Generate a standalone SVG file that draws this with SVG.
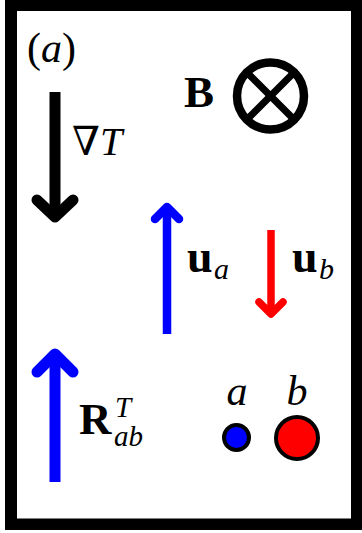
<svg xmlns="http://www.w3.org/2000/svg" width="362" height="533" viewBox="0 0 362 533">
<style>
.t{font-family:"Liberation Serif","DejaVu Serif",serif;fill:#000}
.i{font-style:italic}
.b{font-weight:bold}
.shaft{fill:none;stroke-linecap:butt}
.head{fill:none;stroke-linecap:round;stroke-linejoin:round}
</style>
<rect width="362" height="533" fill="#fff"/>
<g id="frame">
<path d="M5 0H362V530H5Z M17 11V518.5H351V11Z" fill="#000" fill-rule="evenodd"/>
</g>
<g id="connectors">
<g id="gradT" stroke="#000">
<line class="shaft" x1="55" y1="92" x2="55" y2="214" stroke-width="11"/>
<polyline class="head" points="37,200 55,217 73,200" stroke-width="11"/>
</g>
<g id="ua" stroke="#0000ff">
<line class="shaft" x1="167" y1="211" x2="167" y2="334" stroke-width="8.5"/>
<polyline class="head" points="155,219 167,207 179,219" stroke-width="8.5"/>
</g>
<g id="ub" stroke="#ff0000">
<line class="shaft" x1="271" y1="230" x2="271" y2="310" stroke-width="7.5"/>
<polyline class="head" points="259,302 271,314 283,302" stroke-width="7.5"/>
</g>
<g id="R" stroke="#0000ff">
<line class="shaft" x1="55" y1="358" x2="55" y2="482" stroke-width="11"/>
<polyline class="head" points="37,372 55,354 73,372" stroke-width="11"/>
</g>
</g>
<g id="label-a-panel"><text class="t" x="27" y="62" font-size="42">(<tspan class="i">a</tspan>)</text></g>
<g id="B-field">
<text class="t b" x="184" y="107" font-size="45">B</text>
<circle cx="270.5" cy="96" r="33.5" fill="none" stroke="#000" stroke-width="8.5"/>
<line x1="247" y1="72.5" x2="294" y2="119.5" stroke="#000" stroke-width="7"/>
<line x1="294" y1="72.5" x2="247" y2="119.5" stroke="#000" stroke-width="7"/>
</g>
<g id="label-gradT"><text class="t" x="72" y="155" font-size="40">∇<tspan class="i">T</tspan></text></g>
<g id="label-ua"><text class="t b" x="187" y="272" font-size="46">u</text><text class="t i" x="214" y="279" font-size="30">a</text></g>
<g id="label-ub"><text class="t b" x="292" y="272" font-size="46">u</text><text class="t i" x="319" y="279" font-size="30">b</text></g>
<g id="label-R"><text class="t b" x="79" y="434" font-size="45">R</text>
<text class="t i" x="115" y="417" font-size="29">T</text>
<text class="t i" x="114" y="446" font-size="29">ab</text></g>
<g id="particle-a">
<text class="t i" x="237" y="405" font-size="42" text-anchor="middle">a</text>
<circle cx="236.5" cy="437.5" r="12.5" fill="#0000ff" stroke="#000" stroke-width="4"/>
</g>
<g id="particle-b">
<text class="t i" x="297" y="405" font-size="42" text-anchor="middle">b</text>
<circle cx="297" cy="438" r="21" fill="#ff0000" stroke="#000" stroke-width="4"/>
</g>
</svg>
